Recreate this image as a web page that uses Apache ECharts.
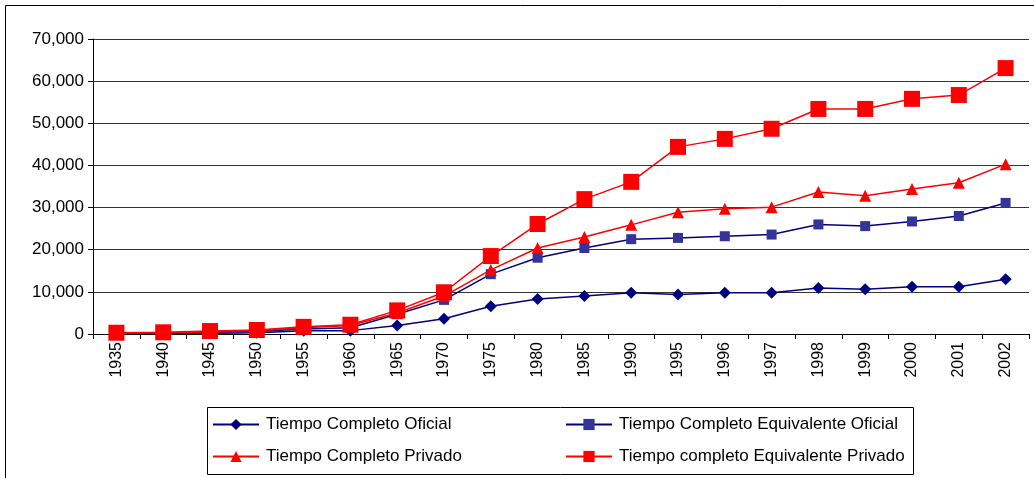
<!DOCTYPE html>
<html>
<head>
<meta charset="utf-8">
<script src="https://cdn.jsdelivr.net/npm/echarts@6/dist/echarts.min.js"></script>
<style>
  html, body { margin: 0; padding: 0; background: #fff; }
  #chart { width: 1034px; height: 478px; }
</style>
</head>
<body>
<div id="chart"></div>
<script>
// 年份
const years = ['1935', '1940', '1945', '1950', '1955', '1960', '1965', '1970', '1975', '1980',
  '1985', '1990', '1995', '1996', '1997', '1998', '1999', '2000', '2001', '2002']

const completoOficial = [100, 100, 200, 300, 800, 800, 2000, 3600, 6600, 8300,
  9000, 9800, 9400, 9800, 9800, 10900, 10600, 11200, 11200, 13000]
const equivalenteOficial = [100, 200, 400, 600, 1200, 1500, 4700, 8100, 14200, 18100,
  20400, 22500, 22800, 23200, 23600, 26000, 25600, 26700, 28000, 31100]
const completoPrivado = [200, 300, 500, 800, 1500, 2000, 5000, 9000, 15200, 20400,
  23000, 25900, 28900, 29700, 30100, 33700, 32800, 34400, 35900, 40300]
const equivalentePrivado = [300, 400, 700, 950, 1700, 2200, 5600, 9900, 18500, 26100,
  32000, 36100, 44400, 46300, 48700, 53400, 53400, 55800, 56700, 63100]

const names = [
  'Tiempo Completo Oficial',
  'Tiempo Completo Equivalente Oficial',
  'Tiempo Completo Privado',
  'Tiempo completo Equivalente Privado'
]

const font = 'Liberation Sans, Arial, sans-serif'
const chart = echarts.init(document.getElementById('chart'))

const legendBase = {
  orient: 'vertical',
  top: 416,
  padding: 0,
  itemWidth: 46,
  itemHeight: 14,
  itemGap: 15,
  textStyle: { fontFamily: font, fontSize: 17, color: '#000', padding: [0, 0, 0, 2] }
}

const option = {
  backgroundColor: '#fff',
  animation: false,
  grid: { left: 93, right: 5, top: 39, bottom: 144 },
  graphic: [
    { type: 'rect', shape: { x: 5.5, y: 5.5, width: 1060, height: 520 },
      style: { fill: 'none', stroke: '#000', lineWidth: 1 }, silent: true },
    { type: 'rect', shape: { x: 207.5, y: 407.5, width: 706, height: 67 },
      style: { fill: 'none', stroke: '#000', lineWidth: 1 }, silent: true }
  ],
  legend: [
    Object.assign({ left: 212, data: [names[0], names[2]] }, legendBase),
    Object.assign({ left: 565, data: [names[1], names[3]] }, legendBase)
  ],
  xAxis: {
    type: 'category',
    data: years,
    boundaryGap: true,
    axisLine: { lineStyle: { color: '#000', width: 1 } },
    axisTick: { show: true, length: 5, lineStyle: { color: '#000' } },
    axisLabel: { rotate: 90, margin: 8, fontFamily: font, fontSize: 16, color: '#000' }
  },
  yAxis: {
    type: 'value',
    min: 0,
    max: 70000,
    interval: 10000,
    axisLine: { show: true, lineStyle: { color: '#000', width: 1 } },
    axisTick: { show: true, length: 5, lineStyle: { color: '#000' } },
    splitLine: { show: true, lineStyle: { color: '#333', width: 1 } },
    axisLabel: {
      margin: 9,
      fontFamily: font,
      fontSize: 17,
      color: '#000',
      formatter: v => v.toLocaleString('en-US')
    }
  },
  series: [
    {
      name: names[0], type: 'line', data: completoOficial,
      symbol: 'diamond', symbolSize: 12,
      lineStyle: { color: '#000080', width: 1.5 },
      itemStyle: { color: '#000080' }
    },
    {
      name: names[1], type: 'line', data: equivalenteOficial,
      symbol: 'rect', symbolSize: 10,
      lineStyle: { color: '#000080', width: 1.5 },
      itemStyle: { color: '#333399' }
    },
    {
      name: names[2], type: 'line', data: completoPrivado,
      symbol: 'triangle', symbolSize: 12,
      lineStyle: { color: '#ff0000', width: 1.5 },
      itemStyle: { color: '#ff0000' }
    },
    {
      name: names[3], type: 'line', data: equivalentePrivado,
      symbol: 'rect', symbolSize: 16,
      lineStyle: { color: '#ff0000', width: 1.5 },
      itemStyle: { color: '#ff0000' }
    }
  ]
}

chart.setOption(option)
</script>
</body>
</html>
